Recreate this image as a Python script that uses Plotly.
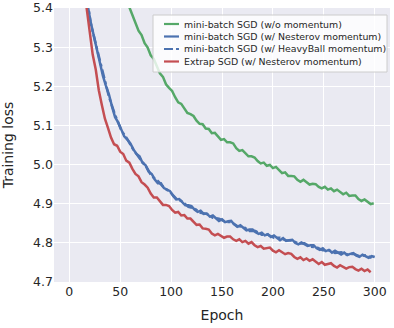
import plotly.graph_objects as go

# ---- data ----
epochs_nesterov = list(range(15, 301, 3))
loss_nesterov = [
    5.473, 5.408, 5.364, 5.329, 5.296, 5.267, 5.227, 5.201, 5.179, 5.148,
    5.121, 5.108, 5.090, 5.072, 5.064, 5.054, 5.039, 5.027, 5.021, 5.004,
    4.998, 4.982, 4.976, 4.962, 4.952, 4.952, 4.940, 4.936, 4.932, 4.920,
    4.911, 4.912, 4.904, 4.896, 4.896, 4.894, 4.885, 4.879, 4.882, 4.874,
    4.875, 4.867, 4.870, 4.862, 4.856, 4.860, 4.853, 4.855, 4.856, 4.847,
    4.841, 4.845, 4.839, 4.832, 4.834, 4.834, 4.827, 4.823, 4.826, 4.819,
    4.822, 4.815, 4.819, 4.812, 4.807, 4.812, 4.805, 4.807, 4.808, 4.800,
    4.796, 4.801, 4.797, 4.792, 4.794, 4.794, 4.786, 4.782, 4.786, 4.779,
    4.782, 4.775, 4.780, 4.774, 4.770, 4.775, 4.769, 4.772, 4.774, 4.767,
    4.764, 4.770, 4.766, 4.762, 4.766, 4.764,
]

epochs_heavyball = list(range(15, 298, 6))
loss_heavyball = [
    5.468, 5.362, 5.298, 5.232, 5.173, 5.127, 5.088, 5.065, 5.038, 5.016,
    4.997, 4.970, 4.958, 4.941, 4.930, 4.913, 4.906, 4.892, 4.888, 4.877,
    4.874, 4.864, 4.862, 4.854, 4.853, 4.843, 4.841, 4.830, 4.830, 4.821,
    4.821, 4.813, 4.813, 4.806, 4.806, 4.798, 4.799, 4.790, 4.789, 4.781,
    4.781, 4.774, 4.776, 4.770, 4.772, 4.766, 4.768, 4.762,
]

epochs_extrap = list(range(14, 297, 3))
loss_extrap = [
    5.461, 5.399, 5.333, 5.281, 5.243, 5.190, 5.152, 5.117, 5.094, 5.069,
    5.052, 5.048, 5.033, 5.027, 5.010, 5.005, 4.989, 4.976, 4.970, 4.955,
    4.949, 4.941, 4.926, 4.916, 4.916, 4.907, 4.897, 4.897, 4.894, 4.884,
    4.877, 4.879, 4.870, 4.871, 4.862, 4.862, 4.853, 4.846, 4.847, 4.837,
    4.836, 4.834, 4.824, 4.819, 4.823, 4.818, 4.813, 4.816, 4.816, 4.809,
    4.805, 4.809, 4.802, 4.805, 4.798, 4.802, 4.794, 4.789, 4.792, 4.785,
    4.787, 4.788, 4.780, 4.776, 4.781, 4.776, 4.771, 4.774, 4.772, 4.764,
    4.759, 4.763, 4.756, 4.760, 4.754, 4.758, 4.751, 4.746, 4.751, 4.744,
    4.746, 4.748, 4.741, 4.737, 4.743, 4.739, 4.734, 4.738, 4.739, 4.733,
    4.729, 4.734, 4.728, 4.732, 4.725,
]

epochs_plain = list(range(56, 300, 3))
loss_plain = [
    5.422, 5.402, 5.384, 5.361, 5.342, 5.331, 5.310, 5.299, 5.279, 5.270,
    5.250, 5.233, 5.224, 5.205, 5.196, 5.188, 5.172, 5.159, 5.155, 5.143,
    5.132, 5.129, 5.124, 5.112, 5.104, 5.103, 5.092, 5.091, 5.080, 5.081,
    5.071, 5.063, 5.065, 5.057, 5.057, 5.054, 5.042, 5.035, 5.037, 5.029,
    5.021, 5.021, 5.018, 5.009, 5.003, 5.005, 4.997, 4.999, 4.991, 4.994,
    4.985, 4.978, 4.980, 4.971, 4.971, 4.970, 4.961, 4.956, 4.961, 4.955,
    4.949, 4.951, 4.950, 4.943, 4.939, 4.943, 4.936, 4.939, 4.932, 4.936,
    4.929, 4.924, 4.928, 4.920, 4.921, 4.921, 4.912, 4.907, 4.911, 4.905,
    4.899, 4.901,
]

names = [
    "mini-batch SGD (w/o momentum)",
    "mini-batch SGD (w/ Nesterov momentum)",
    "mini-batch SGD (w/ HeavyBall momentum)",
    "Extrap SGD (w/ Nesterov momentum)",
]
x_ticks = [0, 50, 100, 150, 200, 250, 300]
y_ticks = [4.7, 4.8, 4.9, 5.0, 5.1, 5.2, 5.3, 5.4]

GREEN = "#55A868"
BLUE = "#4C72B0"
RED = "#C44E52"
FONT = "DejaVu Sans"
TXT = "#262626"

W, H = 394, 328
ML, MR, MT, MB = 54, 4, 8, 46
PW, PH = W - ML - MR, H - MT - MB


def px_x(px):
    return (px - ML) / PW


def px_y(py):
    return (H - MB - py) / PH


fig = go.Figure()
styles = [
    (epochs_plain, loss_plain, GREEN, "solid"),
    (epochs_nesterov, loss_nesterov, BLUE, "solid"),
    (epochs_heavyball, loss_heavyball, BLUE, "dashdot"),
    (epochs_extrap, loss_extrap, RED, "solid"),
]
for (xs, ys, col, dash), nm in zip(styles, names):
    fig.add_trace(go.Scatter(x=xs, y=ys, mode="lines", name=nm, showlegend=False,
                             line=dict(color=col, width=2.5, dash=dash)))

# legend box drawn in pixel positions (matplotlib-style compact legend)
shapes = [dict(type="rect", xref="paper", yref="paper",
               x0=px_x(153), x1=px_x(387), y0=px_y(72), y1=px_y(15),
               fillcolor="rgba(255,255,255,0.8)", line=dict(color="#CCCCCC", width=1),
               layer="above")]
annotations = []
row_y = [24, 36.5, 49, 61.5]
for (xs, ys, col, dash), nm, ry in zip(styles, names, row_y):
    shapes.append(dict(type="line", xref="paper", yref="paper",
                       x0=px_x(164), x1=px_x(179), y0=px_y(ry), y1=px_y(ry),
                       line=dict(color=col, width=2.2, dash=dash), layer="above"))
    annotations.append(dict(text=nm, xref="paper", yref="paper",
                            x=px_x(182), y=px_y(ry), xanchor="left", yanchor="middle",
                            showarrow=False,
                            font=dict(family=FONT, size=9.4, color=TXT)))

fig.update_layout(
    width=W, height=H,
    margin=dict(l=ML, r=MR, t=MT, b=MB),
    paper_bgcolor="white",
    plot_bgcolor="#EAEAF2",
    font=dict(family=FONT, color=TXT, size=12.5),
    showlegend=False,
    shapes=shapes,
    annotations=annotations,
    xaxis=dict(
        range=[-15, 315], tickvals=x_ticks, ticktext=[str(v) for v in x_ticks],
        showgrid=True, gridcolor="white", gridwidth=1, zeroline=False,
        showline=False, ticks="", tickfont=dict(size=12.5, color=TXT),
        automargin=False,
        title=dict(text="Epoch", font=dict(size=14, color=TXT), standoff=12),
    ),
    yaxis=dict(
        range=[4.7, 5.4], tickvals=y_ticks, ticktext=[f"{v:.1f}" for v in y_ticks],
        showgrid=True, gridcolor="white", gridwidth=1, zeroline=False,
        showline=False, ticks="", tickfont=dict(size=12.5, color=TXT),
        automargin=False,
        title=dict(text="Training loss", font=dict(size=14, color=TXT), standoff=18),
    ),
)

fig.write_html("out.html",
               config={"displayModeBar": False},
               post_script="document.body.style.margin='0px';"
                           "document.body.style.overflow='hidden';")
